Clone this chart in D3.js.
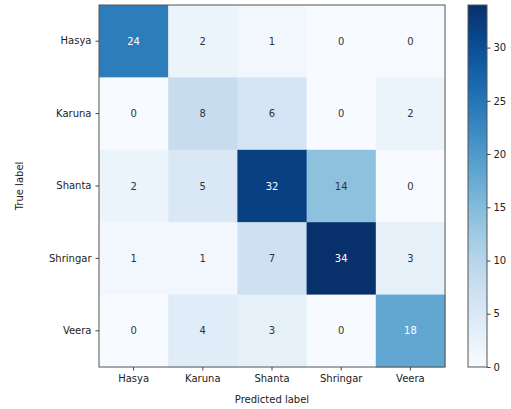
<!DOCTYPE html>
<html>
<head>
<meta charset="utf-8">
<script src="https://d3js.org/d3.v7.min.js"></script>
<style>
  body { margin: 0; background: #fff; }
  text { font-family: "DejaVu Sans", sans-serif; }
</style>
</head>
<body>
<svg width="511" height="409"></svg>
<script>
var labels = ["Hasya", "Karuna", "Shanta", "Shringar", "Veera"];
var matrix = [
  [24, 2, 1, 0, 0],
  [0, 8, 6, 0, 2],
  [2, 5, 32, 14, 0],
  [1, 1, 7, 34, 3],
  [0, 4, 3, 0, 18]
];
var cbTicks = [0, 5, 10, 15, 20, 25, 30];

var svg = d3.select("svg");
var mLeft = 99, mTop = 5, w = 346, h = 362;

var x = d3.scaleBand().domain(labels).range([mLeft, mLeft + w]);
var y = d3.scaleBand().domain(labels).range([mTop, mTop + h]);
var vmax = d3.max(matrix, function (r) { return d3.max(r); });
var color = d3.scaleSequential(d3.interpolateBlues).domain([0, vmax]);

var cells = [];
matrix.forEach(function (row, i) {
  row.forEach(function (v, j) { cells.push({ t: labels[i], p: labels[j], v: v }); });
});

svg.append("g").selectAll("rect").data(cells).enter().append("rect")
  .attr("x", function (d) { return x(d.p); })
  .attr("y", function (d) { return y(d.t); })
  .attr("width", x.bandwidth() + 0.5)
  .attr("height", y.bandwidth() + 0.5)
  .attr("fill", function (d) { return color(d.v); });

svg.append("g").selectAll("text").data(cells).enter().append("text")
  .attr("x", function (d) { return x(d.p) + x.bandwidth() / 2; })
  .attr("y", function (d) { return y(d.t) + y.bandwidth() / 2; })
  .attr("text-anchor", "middle")
  .attr("dy", "0.35em")
  .attr("font-size", 10)
  .attr("fill", function (d) { return d.v > vmax / 2 ? "#fff" : "#333"; })
  .text(function (d) { return d.v; });

svg.append("rect")
  .attr("x", mLeft).attr("y", mTop).attr("width", w).attr("height", h)
  .attr("fill", "none").attr("stroke", "#555").attr("stroke-width", 1);

var xAxis = svg.append("g").attr("transform", "translate(0," + (mTop + h) + ")")
  .call(d3.axisBottom(x).tickSize(3.5).tickPadding(4));
var yAxis = svg.append("g").attr("transform", "translate(" + mLeft + ",0)")
  .call(d3.axisLeft(y).tickSize(3.5).tickPadding(4));
[xAxis, yAxis].forEach(function (a) {
  a.select(".domain").remove();
  a.selectAll("text").attr("font-size", 10).attr("fill", "#222")
    .attr("font-family", "DejaVu Sans, sans-serif");
  a.selectAll("line").attr("stroke", "#444");
});

svg.append("text").attr("x", mLeft + w / 2).attr("y", 403)
  .attr("text-anchor", "middle").attr("font-size", 10).attr("fill", "#222")
  .text("Predicted label");
svg.append("text")
  .attr("transform", "translate(23," + (mTop + h / 2) + ") rotate(-90)")
  .attr("text-anchor", "middle").attr("font-size", 10).attr("fill", "#222")
  .text("True label");

// colorbar
var cbX = 468, cbW = 19;
var cy = d3.scaleLinear().domain([0, vmax]).range([mTop + h, mTop]);
var defs = svg.append("defs");
var grad = defs.append("linearGradient").attr("id", "cb")
  .attr("x1", 0).attr("y1", 1).attr("x2", 0).attr("y2", 0);
d3.range(0, 1.001, 0.05).forEach(function (t) {
  grad.append("stop").attr("offset", t).attr("stop-color", color(t * vmax));
});
svg.append("rect").attr("x", cbX).attr("y", mTop).attr("width", cbW).attr("height", h)
  .attr("fill", "url(#cb)").attr("stroke", "#555").attr("stroke-width", 1);
var cAxis = svg.append("g").attr("transform", "translate(" + (cbX + cbW) + ",0)")
  .call(d3.axisRight(cy).tickValues(cbTicks).tickSize(3.5).tickPadding(3));
cAxis.select(".domain").remove();
cAxis.selectAll("text").attr("font-size", 10).attr("fill", "#222")
  .attr("font-family", "DejaVu Sans, sans-serif");
cAxis.selectAll("line").attr("stroke", "#444");
</script>
</body>
</html>
